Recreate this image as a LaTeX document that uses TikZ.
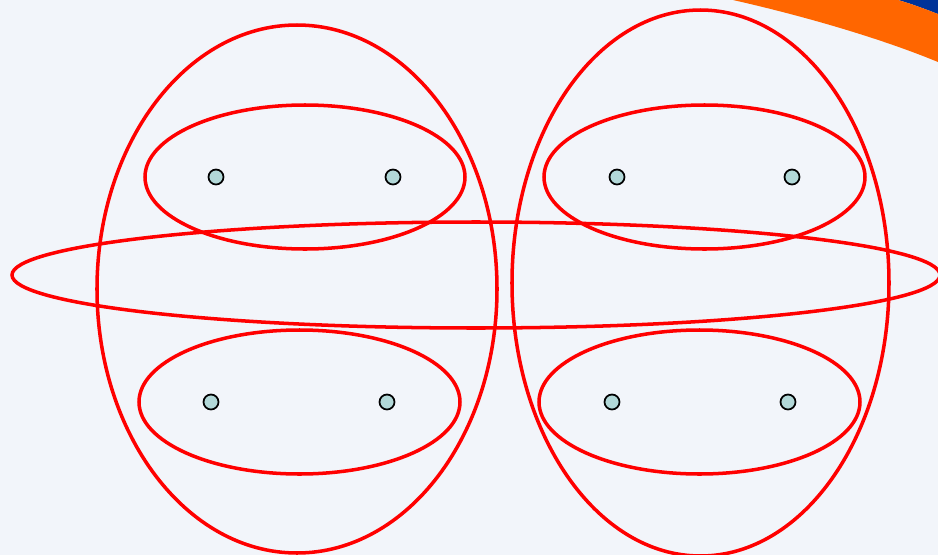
\documentclass[tikz,border=0pt]{standalone}
\usetikzlibrary{positioning}
\definecolor{bgpage}{RGB}{242,245,250}
\definecolor{bandorange}{RGB}{255,102,0}
\definecolor{bandblue}{RGB}{0,51,153}
\definecolor{dotfill}{RGB}{178,216,216}

\begin{document}
\begin{tikzpicture}[x=0.02cm, y=-0.02cm,
    ring/.style={draw=red, line width=2pt},
    elem/.style={draw=black, fill=dotfill, circle, line width=1pt, inner sep=0pt, minimum size=3mm}]
    \fill[bgpage] (0,0) rectangle (938,555);
    \useasboundingbox (0,0) rectangle (938,555);

    % corner band
    \fill[bandblue] (898,0) .. controls (912,4) and (925,9) .. (938,14) -- (938,0) -- cycle;
    \fill[bandorange] (733,0) .. controls (795,14) and (875,36) .. (938,62) -- (938,14)
        .. controls (925,9) and (912,4) .. (898,0) -- cycle;

    % big sets
    \draw[ring] (297,289) ellipse (200 and 264);
    \draw[ring] (700.5,283) ellipse (188.5 and 273);

    % pairs
    \draw[ring] (305,177) ellipse (160 and 72);
    \draw[ring] (704.5,177) ellipse (160.5 and 72);
    \draw[ring] (299.5,402) ellipse (160.5 and 72);
    \draw[ring] (699.5,402) ellipse (160.5 and 72);

    % middle band
    \draw[ring] (476,275) ellipse (464 and 53);

    % elements
    \node[elem] (a1) at (216,177) {};
    \node[elem] (a2) at (393,177) {};
    \node[elem] (b1) at (617,177) {};
    \node[elem] (b2) at (792,177) {};
    \node[elem] (c1) at (211,402) {};
    \node[elem] (c2) at (387,402) {};
    \node[elem] (d1) at (612,402) {};
    \node[elem] (d2) at (788,402) {};
\end{tikzpicture}
\end{document}
